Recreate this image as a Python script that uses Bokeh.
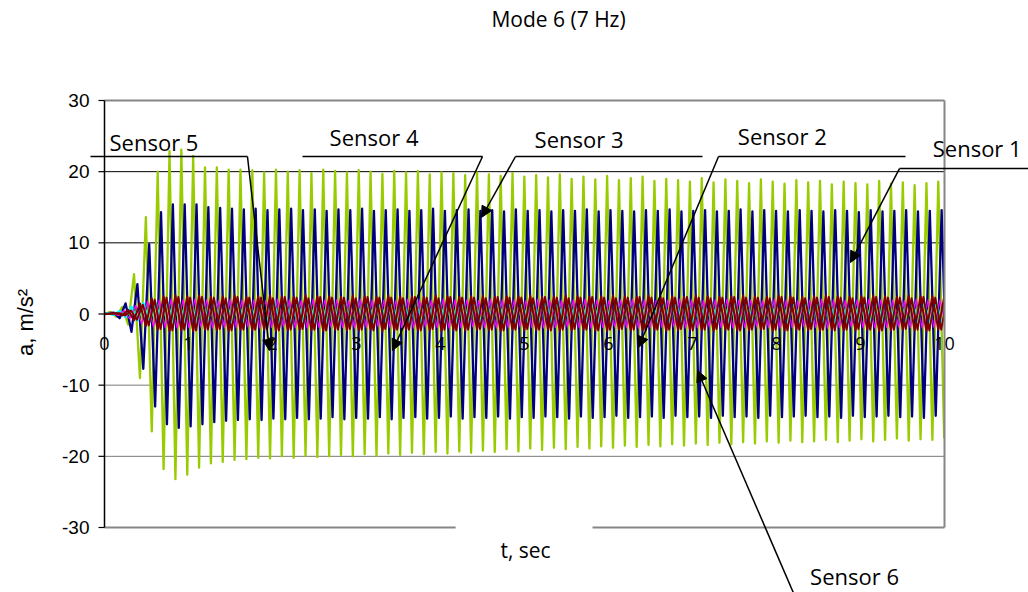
import numpy as np
from bokeh.plotting import figure
from bokeh.models import Label, Arrow, NormalHead, BoxAnnotation, Range1d
from bokeh.core.properties import value
from bokeh.embed import file_html
from bokeh.resources import INLINE

# Response of six accelerometers, mode 6 excitation.
# Each sensor: successive positive peaks and negative troughs (m/s^2),
# one pair per oscillation cycle, first peak at the given start time.
PERIOD = 0.1408  # s, ~7.1 Hz

green_hi = [0.3, 1.0, 5.6, 13.6, 20.0, 22.9, 23.1, 22.2, 20.6, 20.6,
            20.3, 20.3, 20.2, 19.9, 20.3, 20.0, 20.2, 19.8, 20.3, 20.1,
            19.9, 20.2, 20.0, 19.7, 20.1, 19.9, 20.1, 19.6, 19.9, 19.8,
            19.5, 19.9, 19.6, 19.4, 19.8, 19.3, 19.5, 19.2, 19.6, 19.0,
            19.3, 18.9, 19.4, 18.8, 19.1, 19.3, 18.7, 19.0, 18.8, 18.6,
            19.1, 18.5, 18.9, 18.7, 18.4, 18.9, 18.6, 18.3, 18.8, 18.5,
            18.7, 18.2, 18.6, 18.4, 18.2, 18.7, 18.3, 18.5, 18.1, 18.4,
            18.6]
green_lo = [-0.4, -1.5, -9.0, -16.5, -21.8, -23.2, -22.6, -21.6,
            -21.0, -20.8, -20.5, -20.4, -20.2, -20.3, -20.0, -20.2, -19.9, -20.1, -20.0, -19.8,
            -20.0, -19.7, -19.9, -19.6, -19.8, -19.5, -19.7, -19.4, -19.6, -19.3,
            -19.5, -19.2, -19.4, -19.0, -19.3, -18.9, -19.1, -18.8, -19.0, -18.7,
            -18.9, -18.6, -18.8, -18.5, -18.7, -18.4, -18.6, -18.3, -18.5, -18.2,
            -18.4, -18.1, -18.3, -18.0, -18.2, -17.9, -18.1, -17.8, -18.0, -17.9,
            -17.7, -18.0, -17.8, -17.6, -17.9, -17.7, -17.5, -17.8, -17.6, -17.7,
            -17.5]

navy_hi = [0.2, 1.5, 4.2, 9.8, 14.3, 15.4, 15.4, 15.4, 15.0, 14.9,
           14.8, 14.7, 14.8, 14.6, 14.7, 14.8, 14.6, 14.7, 14.5, 14.7,
           14.6, 14.8, 14.5, 14.6, 14.7, 14.5, 14.6, 14.8, 14.5, 14.6,
           14.7, 14.5, 14.6, 14.4, 14.7, 14.5, 14.6, 14.4, 14.6, 14.5,
           14.7, 14.4, 14.6, 14.5, 14.4, 14.6, 14.5, 14.7, 14.4, 14.5,
           14.6, 14.4, 14.5, 14.7, 14.4, 14.6, 14.5, 14.4, 14.6, 14.5,
           14.4, 14.6, 14.5, 14.3, 14.6, 14.4, 14.5, 14.6, 14.4, 14.5,
           14.6]
navy_lo = [-0.6, -2.5, -7.7, -13.0, -15.5, -16.0, -15.8, -15.5, -15.2, -15.0,
           -14.9, -14.8, -14.9, -14.7, -14.8, -14.6, -14.8, -14.7, -14.5, -14.8,
           -14.6, -14.7, -14.5, -14.8, -14.6, -14.5, -14.7, -14.6, -14.4, -14.7,
           -14.5, -14.6, -14.4, -14.7, -14.5, -14.6, -14.4, -14.5, -14.7, -14.4,
           -14.6, -14.5, -14.3, -14.6, -14.5, -14.4, -14.6, -14.3, -14.5, -14.4,
           -14.6, -14.3, -14.5, -14.4, -14.6, -14.3, -14.5, -14.4, -14.3, -14.5,
           -14.4, -14.6, -14.3, -14.5, -14.4, -14.3, -14.5, -14.4, -14.6, -14.3,
           -14.5]

maroon_hi = [0.1, 0.6, 1.5, 2.2, 2.5, 2.6, 2.5, 2.6, 2.4, 2.5,
             2.6, 2.4, 2.5, 2.6, 2.5, 2.4, 2.6, 2.5, 2.5, 2.4,
             2.6, 2.5, 2.4, 2.6, 2.5, 2.5, 2.4, 2.6, 2.5, 2.4,
             2.5, 2.6, 2.4, 2.5, 2.5, 2.6, 2.4, 2.5, 2.6, 2.5,
             2.4, 2.5, 2.6, 2.5, 2.4, 2.6, 2.5, 2.5, 2.4, 2.6,
             2.5, 2.4, 2.5, 2.6, 2.5, 2.4, 2.6, 2.5, 2.4, 2.5,
             2.6, 2.5, 2.4, 2.5, 2.6, 2.5, 2.4, 2.6, 2.5, 2.5,
             2.4]
maroon_lo = [-0.2, -0.9, -1.7, -2.2, -2.4, -2.3, -2.4, -2.2, -2.3, -2.4,
             -2.2, -2.3, -2.2, -2.4, -2.3, -2.2, -2.3, -2.4, -2.2, -2.3,
             -2.3, -2.2, -2.4, -2.3, -2.2, -2.3, -2.3, -2.4, -2.2, -2.3,
             -2.2, -2.3, -2.4, -2.2, -2.3, -2.3, -2.2, -2.4, -2.3, -2.2,
             -2.3, -2.4, -2.2, -2.3, -2.3, -2.2, -2.4, -2.3, -2.2, -2.3,
             -2.4, -2.2, -2.3, -2.3, -2.2, -2.4, -2.3, -2.2, -2.3, -2.4,
             -2.2, -2.3, -2.3, -2.2, -2.4, -2.3, -2.2, -2.3, -2.4, -2.2,
             -2.3]

plum_hi = [0.1, 0.5, 1.3, 2.0, 2.3, 2.4, 2.3, 2.4, 2.3, 2.2,
           2.4, 2.3, 2.3, 2.2, 2.4, 2.3, 2.2, 2.4, 2.3, 2.3,
           2.2, 2.4, 2.3, 2.3, 2.2, 2.4, 2.3, 2.2, 2.4, 2.3,
           2.3, 2.2, 2.4, 2.3, 2.3, 2.2, 2.4, 2.3, 2.2, 2.3,
           2.4, 2.3, 2.2, 2.3, 2.4, 2.3, 2.2, 2.3, 2.4, 2.3,
           2.2, 2.3, 2.4, 2.3, 2.3, 2.2, 2.4, 2.3, 2.2, 2.3,
           2.4, 2.3, 2.2, 2.3, 2.4, 2.3, 2.3, 2.2, 2.4, 2.3,
           2.3]
plum_lo = [-0.2, -0.8, -1.6, -2.1, -2.3, -2.2, -2.3, -2.2, -2.1, -2.3,
           -2.2, -2.2, -2.1, -2.3, -2.2, -2.1, -2.2, -2.3, -2.2, -2.1,
           -2.2, -2.3, -2.1, -2.2, -2.2, -2.3, -2.1, -2.2, -2.3, -2.2,
           -2.1, -2.2, -2.3, -2.2, -2.1, -2.2, -2.3, -2.2, -2.1, -2.2,
           -2.3, -2.2, -2.1, -2.2, -2.3, -2.2, -2.2, -2.1, -2.3, -2.2,
           -2.1, -2.2, -2.3, -2.2, -2.1, -2.2, -2.3, -2.2, -2.1, -2.2,
           -2.3, -2.2, -2.1, -2.2, -2.3, -2.2, -2.1, -2.2, -2.3, -2.2,
           -2.1]

magenta_hi = [0.1, 0.5, 1.2, 1.8, 2.0, 2.1, 2.0, 2.1, 2.0, 1.9,
              2.1, 2.0, 2.0, 1.9, 2.1, 2.0, 1.9, 2.1, 2.0, 2.0,
              1.9, 2.1, 2.0, 2.0, 1.9, 2.1, 2.0, 1.9, 2.1, 2.0,
              2.0, 1.9, 2.1, 2.0, 2.0, 1.9, 2.1, 2.0, 1.9, 2.0,
              2.1, 2.0, 1.9, 2.0, 2.1, 2.0, 1.9, 2.0, 2.1, 2.0,
              1.9, 2.0, 2.1, 2.0, 2.0, 1.9, 2.1, 2.0, 1.9, 2.0,
              2.1, 2.0, 1.9, 2.0, 2.1, 2.0, 2.0, 1.9, 2.1, 2.0,
              2.0]
magenta_lo = [-0.2, -0.7, -1.4, -1.8, -1.9, -2.0, -1.9, -1.8, -2.0, -1.9,
              -1.9, -1.8, -2.0, -1.9, -1.8, -1.9, -2.0, -1.9, -1.8, -1.9,
              -2.0, -1.9, -1.8, -1.9, -1.9, -2.0, -1.8, -1.9, -2.0, -1.9,
              -1.8, -1.9, -2.0, -1.9, -1.8, -1.9, -2.0, -1.9, -1.8, -1.9,
              -2.0, -1.9, -1.8, -1.9, -2.0, -1.9, -1.9, -1.8, -2.0, -1.9,
              -1.8, -1.9, -2.0, -1.9, -1.8, -1.9, -2.0, -1.9, -1.8, -1.9,
              -2.0, -1.9, -1.8, -1.9, -2.0, -1.9, -1.8, -1.9, -2.0, -1.9,
              -1.8]

cyan_hi = [0.1, 0.4, 1.0, 1.5, 1.7, 1.8, 1.7, 1.8, 1.7, 1.8,
           1.7, 1.8, 1.8, 1.7, 1.8, 1.7, 1.8, 1.8, 1.7, 1.8,
           1.7, 1.8, 1.7, 1.8, 1.8, 1.7, 1.8, 1.7, 1.8, 1.7,
           1.8, 1.8, 1.7, 1.8, 1.7, 1.8, 1.7, 1.8, 1.8, 1.7,
           1.8, 1.7, 1.8, 1.7, 1.8, 1.8, 1.7, 1.8, 1.7, 1.8,
           1.7, 1.8, 1.8, 1.7, 1.8, 1.7, 1.8, 1.7, 1.8, 1.8,
           1.7, 1.8, 1.7, 1.8, 1.7, 1.8, 1.8, 1.7, 1.8, 1.7,
           1.8]
cyan_lo = [-0.1, -0.4, -0.9, -1.2, -1.3, -1.3, -1.2, -1.3, -1.2, -1.3,
           -1.3, -1.2, -1.3, -1.2, -1.3, -1.3, -1.2, -1.3, -1.2, -1.3,
           -1.3, -1.2, -1.3, -1.2, -1.3, -1.3, -1.2, -1.3, -1.2, -1.3,
           -1.3, -1.2, -1.3, -1.2, -1.3, -1.3, -1.2, -1.3, -1.2, -1.3,
           -1.3, -1.2, -1.3, -1.2, -1.3, -1.3, -1.2, -1.3, -1.2, -1.3,
           -1.3, -1.2, -1.3, -1.2, -1.3, -1.3, -1.2, -1.3, -1.2, -1.3,
           -1.3, -1.2, -1.3, -1.2, -1.3, -1.3, -1.2, -1.3, -1.2, -1.3,
           -1.3]

# (peaks, troughs, time of first peak, colour, line width) in drawing order
series = [
    (green_hi, green_lo, 0.07, "#99CC00", 2.3),
    (navy_hi, navy_lo, 0.11, "#000080", 2.3),
    (cyan_hi, cyan_lo, 0.04, "#00FFFF", 2.6),
    (magenta_hi, magenta_lo, 0.09, "#FF00FF", 1.2),
    (plum_hi, plum_lo, 0.175, "#800000", 2.0),
    (maroon_hi, maroon_lo, 0.14, "#800000", 2.0),
]

y_ticks = [-30, -20, -10, 0, 10, 20, 30]
y_tick_text = ["-30", "-20", "-10", "0", "10", "20", "30"]
y_grid = [-20, -10, 10, 20]
y_grid_colors = ["#7a7a7a", "#7a7a7a", "#000000", "#000000"]
x_ticks = [0, 1, 2, 3, 4, 5, 6, 7, 8, 9, 10]
x_tick_text = ["0", "1", "2", "3", "4", "5", "6", "7", "8", "9", "10"]
T_MAX, A_MIN, A_MAX = 10, -30, 30


def trace(hi, lo, t_first):
    t, a = [0.0], [0.0]
    for k, (h, l) in enumerate(zip(hi, lo)):
        t += [t_first + k * PERIOD, t_first + (k + 0.5) * PERIOD]
        a += [h, l]
    return t, a


# The frame spans the whole canvas; the axes are drawn by hand so that
# the call-outs and titles around the plot area are not clipped.
PX_PER_S = 84.0
PX_PER_UNIT = 427.0 / 60.0
X_ORIGIN_PX, Y_ORIGIN_PX = 104.0, 313.5
p = figure(width=1028, height=592,
           x_range=Range1d(-X_ORIGIN_PX / PX_PER_S, (1028 - X_ORIGIN_PX) / PX_PER_S),
           y_range=Range1d((Y_ORIGIN_PX - 592) / PX_PER_UNIT, Y_ORIGIN_PX / PX_PER_UNIT),
           x_axis_location=None, y_axis_location=None,
           output_backend="svg", toolbar_location=None, min_border=0)
p.outline_line_color = None
p.background_fill_color = "white"
p.border_fill_color = "white"
p.xgrid.grid_line_color = None
p.ygrid.grid_line_color = None

# horizontal grid lines under the data
p.segment(x0=[0] * len(y_grid), x1=[T_MAX] * len(y_grid), y0=y_grid, y1=y_grid,
          line_color=y_grid_colors, line_width=1, level="underlay")

for hi, lo, t0, color, lw in series:
    t, a = trace(hi, lo, t0)
    p.line(t, a, line_color=color, line_width=lw, line_join="round")

# hide the samples that run past the end of the time axis
p.add_layout(BoxAnnotation(left=T_MAX, right=20, bottom=-100, top=100,
                           fill_color="white", fill_alpha=1.0, line_color=None))

# value axis: line, outward ticks and labels
tick_len = 6 / PX_PER_S
p.segment(x0=[0], x1=[0], y0=[A_MIN], y1=[A_MAX], line_color="#000000",
          line_width=1.5, level="overlay")
p.segment(x0=[-tick_len] * len(y_ticks), x1=[0] * len(y_ticks), y0=y_ticks, y1=y_ticks,
          line_color="#000000", line_width=1.2, level="overlay")
p.text(x=[-15 / PX_PER_S] * len(y_ticks), y=y_ticks, text=y_tick_text,
       text_font=value("Liberation Sans"), text_font_size="19px", text_color="#000000",
       text_align="right", text_baseline="middle", level="overlay")

# time axis labels sit just under the zero line
p.text(x=x_ticks, y=[-29.5 / PX_PER_UNIT] * len(x_ticks), text=x_tick_text,
       text_font=value("Open Sans"), text_font_size="18px", text_color="#000000",
       text_align="center", text_baseline="middle", level="overlay")


def seg(x0, y0, x1, y1, color="#000000", width=1.5, head=None):
    p.add_layout(Arrow(x_start=x0, y_start=y0, x_end=x1, y_end=y1,
                       start=None, end=head, line_color=color, line_width=width))


# plot-area border (bottom edge interrupted behind the axis title)
border = "#868686"
seg(0, A_MAX, T_MAX, A_MAX, border, 2)
seg(T_MAX, A_MAX, T_MAX, A_MIN, border, 2)
seg(0, A_MIN, 4.18, A_MIN, border, 2)
seg(5.81, A_MIN, T_MAX, A_MIN, border, 2)


def head():
    return NormalHead(size=11, fill_color="#000000", line_color="#000000", line_width=1)


def text(x, y, s, size="22px", font="Open Sans", align="left", angle=0.0):
    p.add_layout(Label(x=x, y=y, text=s, text_font=font, text_font_size=size,
                       text_color="#000000", text_align=align,
                       text_baseline="middle", angle=angle))


# sensor call-outs
text(0.06, 24.1, "Sensor 5")
seg(-0.167, 22.13, 1.702, 22.13)
seg(1.702, 22.13, 1.964, -5.13, head=head())

text(2.68, 24.94, "Sensor 4")
seg(2.357, 22.13, 4.5, 22.13)
seg(4.5, 22.13, 3.429, -5.13, head=head())

text(5.12, 24.66, "Sensor 3")
seg(4.893, 22.13, 7.119, 22.13)
seg(4.893, 22.13, 4.488, 13.56, head=head())

text(7.54, 25.08, "Sensor 2")
seg(7.31, 22.13, 9.536, 22.13)
seg(7.31, 22.13, 6.357, -4.71, head=head())

text(9.86, 23.39, "Sensor 1")
seg(9.464, 20.44, 11.0, 20.44)
seg(9.464, 20.44, 8.881, 7.24, head=head())

text(8.40, -36.88, "Sensor 6")
seg(8.202, -39.2, 7.06, -7.94, head=head())

# titles
text(5.405, 41.5, "Mode 6 (7 Hz)", size="21px", align="center")
text(5.012, -33.23, "t, sec", size="21px", align="center")
text(-0.94, -1.19, "a, m/s\u00b2", size="22px", font="Liberation Sans",
     align="center", angle=np.pi / 2)

open("out.html", "w").write(file_html(p, INLINE))
